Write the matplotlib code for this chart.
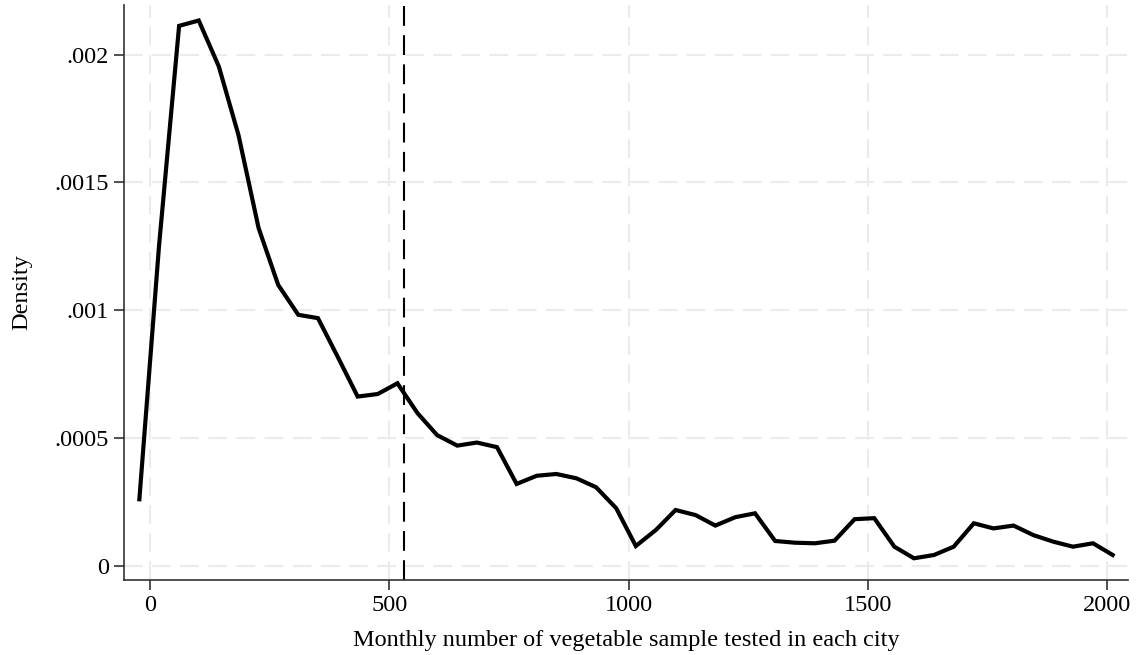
import matplotlib
matplotlib.use("Agg")
import matplotlib.pyplot as plt

# kernel density evaluation grid
GRID_X = [-22, 19, 61, 102, 144, 185, 227, 268, 310, 351,
          393, 434, 476, 517, 559, 600, 642, 683, 725, 766,
          808, 849, 891, 932, 974, 1015, 1057, 1098, 1140, 1181,
          1223, 1264, 1306, 1347, 1389, 1430, 1472, 1513, 1555, 1596,
          1638, 1679, 1721, 1762, 1804, 1845, 1887, 1928, 1970, 2011]
DENSITY = [0.00026, 0.00125, 0.002113, 0.002134, 0.001954, 0.001686, 0.001322, 0.001099, 0.000982, 0.000969,
           0.000815, 0.000662, 0.000672, 0.000714, 0.000597, 0.000511, 0.00047, 0.000482, 0.000464, 0.00032,
           0.000352, 0.000359, 0.000342, 0.000307, 0.000225, 0.000077, 0.00014, 0.000218, 0.000198, 0.000157,
           0.00019, 0.000205, 0.0000967, 0.00009, 0.0000877, 0.0000979, 0.000182, 0.000186, 0.0000744, 0.000029,
           0.000042, 0.0000744, 0.000166, 0.000146, 0.000157, 0.00012, 0.000094, 0.0000744, 0.0000877, 0.000042]
MEAN_X = 530

X_TICKS = [0, 500, 1000, 1500, 2000]
Y_TICKS = [0, 0.0005, 0.001, 0.0015, 0.002]
Y_LABELS = ["0", ".0005", ".001", ".0015", ".002"]

plt.rcParams["font.family"] = ["Liberation Serif", "DejaVu Serif"]

fig = plt.figure(figsize=(11.38, 6.55), dpi=100)
ax = fig.add_axes([0.109, 0.1145, 0.8822, 0.878])

grid_kw = dict(color="#ebebeb", linewidth=1.5, dashes=(9, 4.5), zorder=1)
for x in X_TICKS:
    ax.axvline(x, **grid_kw)
for y in Y_TICKS:
    ax.axhline(y, **grid_kw)

ax.plot(GRID_X, DENSITY, color="black", linewidth=3.0, solid_joinstyle="miter", zorder=3)
ax.axvline(MEAN_X, color="black", linewidth=1.5, dashes=(9.5, 4.5), zorder=2)

ax.set_xlim(-54, 2043)
ax.set_ylim(-0.000056, 0.002195)
ax.set_xticks(X_TICKS)
ax.set_xticklabels([str(v) for v in X_TICKS])
ax.set_yticks(Y_TICKS)
ax.set_yticklabels(Y_LABELS)

for side in ("top", "right"):
    ax.spines[side].set_visible(False)
for side in ("left", "bottom"):
    ax.spines[side].set_color("#333333")
    ax.spines[side].set_linewidth(1.2)
ax.tick_params(axis="both", length=7, width=1.2, color="#333333", labelsize=17.5, pad=4)

ax.set_xlabel("Monthly number of vegetable sample tested in each city", fontsize=17.5, labelpad=10)
ax.set_ylabel("Density", fontsize=17.5, labelpad=16)

fig.savefig("out.png", dpi=100)
